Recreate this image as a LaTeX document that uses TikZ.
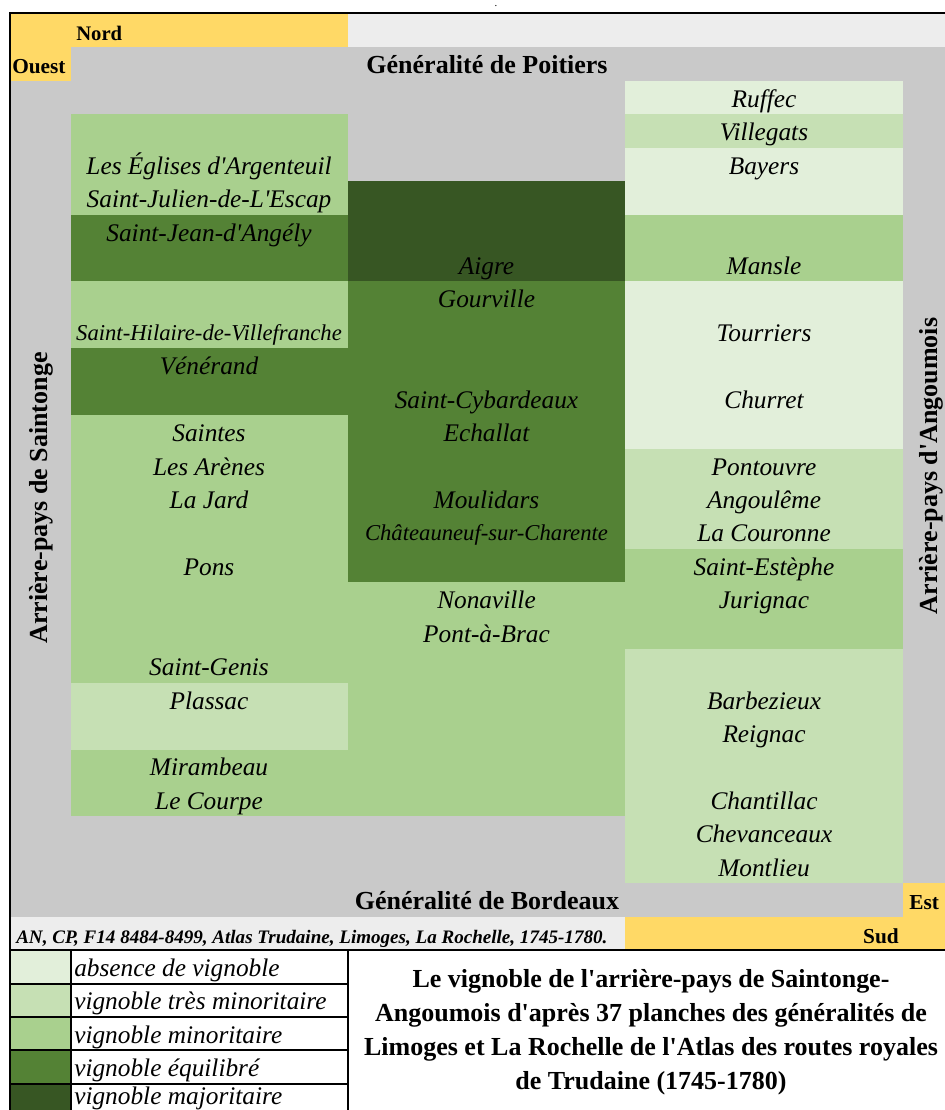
\documentclass[tikz,border=0pt]{standalone}
\usepackage{amssymb, mathtools, amsmath}
\usepackage{fontspec}
\setmainfont{Liberation Serif}
\usepackage{tikz}

\begin{document}
\begin{tikzpicture}[x=0.75pt,y=0.75pt,yscale=-1,xscale=1,
  gris/.style={fill={rgb, 255:red, 201; green, 201; blue, 201}},
  grisclair/.style={fill={rgb, 255:red, 237; green, 237; blue, 237}},
  jaune/.style={fill={rgb, 255:red, 255; green, 217; blue, 102}},
  vabsent/.style={fill={rgb, 255:red, 226; green, 239; blue, 218}},
  vtresmin/.style={fill={rgb, 255:red, 198; green, 224; blue, 180}},
  vmin/.style={fill={rgb, 255:red, 169; green, 208; blue, 142}},
  vequil/.style={fill={rgb, 255:red, 84; green, 130; blue, 53}},
  vmaj/.style={fill={rgb, 255:red, 55; green, 86; blue, 35}},
  lieu/.style={anchor=base, inner sep=0pt, font=\fontsize{19}{22}\selectfont\itshape},
  petitlieu/.style={lieu, font=\fontsize{17}{20}\selectfont\itshape},
  entete/.style={anchor=base, inner sep=0pt, font=\fontsize{19.5}{24}\selectfont\bfseries},
  boussole/.style={anchor=base west, inner sep=0pt, font=\fontsize{16}{18}\selectfont\bfseries},
  legende/.style={anchor=base west, inner sep=0pt, font=\fontsize{19}{22}\selectfont\itshape},
  source/.style={anchor=base west, inner sep=0pt, font=\fontsize{14.3}{16}\selectfont\bfseries\itshape},
  cadre/.style={line width=2pt},
  trait/.style={line width=1.5pt}]
%set diagram 945 x 1110
\fill [white] (0,0) rectangle (945,1110) ;
\useasboundingbox (0,0) rectangle (945,1110) ;

%Shape: Rectangle (fond)
\fill [gris] (10,14) rectangle (945,950) ;
\fill [jaune] (10,14) rectangle (348,47.4) ;
\fill [grisclair] (348,14) rectangle (945,47.4) ;
\fill [jaune] (10,47.4) rectangle (70.5,80.9) ;
\fill [jaune] (903,883.2) rectangle (945,916.6) ;
\fill [grisclair] (10,916.6) rectangle (625,950) ;
\fill [jaune] (625,916.6) rectangle (945,950) ;

%Shape: Rectangle (Saintonge)
\fill [vmin] (70.5,114.3) rectangle (348,214.6) ;
\fill [vequil] (70.5,214.6) rectangle (348,281.4) ;
\fill [vmin] (70.5,281.4) rectangle (348,348.3) ;
\fill [vequil] (70.5,348.3) rectangle (348,415.2) ;
\fill [vmin] (70.5,415.2) rectangle (348,682.6) ;
\fill [vtresmin] (70.5,682.6) rectangle (348,749.5) ;
\fill [vmin] (70.5,749.5) rectangle (348,816.3) ;

%Shape: Rectangle (centre)
\fill [vmaj] (348,181.2) rectangle (625,281.4) ;
\fill [vequil] (348,281.4) rectangle (625,582.3) ;
\fill [vmin] (348,582.3) rectangle (625,816.3) ;

%Shape: Rectangle (Angoumois)
\fill [vabsent] (625,80.9) rectangle (903,114.3) ;
\fill [vtresmin] (625,114.3) rectangle (903,147.7) ;
\fill [vabsent] (625,147.7) rectangle (903,214.6) ;
\fill [vmin] (625,214.6) rectangle (903,281.4) ;
\fill [vabsent] (625,281.4) rectangle (903,448.6) ;
\fill [vtresmin] (625,448.6) rectangle (903,548.9) ;
\fill [vmin] (625,548.9) rectangle (903,649.2) ;
\fill [vtresmin] (625,649.2) rectangle (903,883.2) ;

%Shape: Rectangle (legende)
\fill [vabsent] (10,950) rectangle (70.5,983.5) ;
\fill [vtresmin] (10,983.5) rectangle (70.5,1016.9) ;
\fill [vmin] (10,1016.9) rectangle (70.5,1050.3) ;
\fill [vequil] (10,1050.3) rectangle (70.5,1083.8) ;
\fill [vmaj] (10,1083.8) rectangle (70.5,1110) ;

%Straight Lines
\draw [cadre] (10,1110) -- (10,13) -- (945,13) ;
\draw [cadre] (10,950) -- (945,950) ;
\draw [trait] (10,983.5) -- (348,983.5) (10,1016.9) -- (348,1016.9) (10,1050.3) -- (348,1050.3) (10,1083.8) -- (348,1083.8) ;
\draw [trait] (70.5,950) -- (70.5,1110) (348,950) -- (348,1110) ;

% Text Node
\node [anchor=base, inner sep=0pt, font=\fontsize{8}{8}\selectfont] (point) at (496,7) {.};
% Text Node
\node [boussole, font=\fontsize{15.5}{18}\selectfont\bfseries] (nord) at (76,40.5) {Nord};
\node [boussole] (ouest) at (12,73.9) {Ouest};
\node [boussole] (est) at (909,909.6) {Est};
\node [boussole, anchor=base east] (sud) at (899,943) {Sud};
% Text Node
\node [entete] (poitiers) at (487,73.9) {Généralité de Poitiers};
\node [entete] (bordeaux) at (487,909.6) {Généralité de Bordeaux};
\node [entete, rotate=90] (saintonge) at (47,498) {Arrière-pays de Saintonge};
\node [entete, rotate=90] (angoumois) at (937,466) {Arrière-pays d\textquotesingle Angoumois};
% Text Node
\node [source] (sourceAN) at (16,943) {AN, CP, F14 8484-8499, Atlas Trudaine, Limoges, La Rochelle, 1745-1780.};

% Text Node
\node [lieu] (lesEglises) at (209,174.2) {Les Églises d\textquotesingle Argenteuil};
\node [lieu] (stJulien) at (209,207.6) {Saint-Julien-de-L\textquotesingle Escap};
\node [lieu] (stJean) at (209,241) {Saint-Jean-d\textquotesingle Angély};
\node [petitlieu] (stHilaire) at (209,340.5) {Saint-Hilaire-de-Villefranche};
\node [lieu] (venerand) at (209,374.7) {Vénérand};
\node [lieu] (saintes) at (209,441.6) {Saintes};
\node [lieu] (lesArenes) at (209,475) {Les Arènes};
\node [lieu] (laJard) at (209,508.5) {La Jard};
\node [lieu] (pons) at (209,575.3) {Pons};
\node [lieu] (stGenis) at (209,675.6) {Saint-Genis};
\node [lieu] (plassac) at (209,709) {Plassac};
\node [lieu] (mirambeau) at (209,775.9) {Mirambeau};
\node [lieu] (leCourpe) at (209,809.3) {Le Courpe};

% Text Node
\node [lieu] (aigre) at (486.5,274.4) {Aigre};
\node [lieu] (gourville) at (486.5,307.9) {Gourville};
\node [lieu] (stCybardeaux) at (486.5,408.2) {Saint-Cybardeaux};
\node [lieu] (echallat) at (486.5,441.6) {Echallat};
\node [lieu] (moulidars) at (486.5,508.5) {Moulidars};
\node [petitlieu] (chateauneuf) at (486.5,540.5) {Châteauneuf-sur-Charente};
\node [lieu] (nonaville) at (486.5,608.7) {Nonaville};
\node [lieu] (pontABrac) at (486.5,642.2) {Pont-à-Brac};

% Text Node
\node [lieu] (ruffec) at (764,107.3) {Ruffec};
\node [lieu] (villegats) at (764,140.7) {Villegats};
\node [lieu] (bayers) at (764,174.2) {Bayers};
\node [lieu] (mansle) at (764,274.4) {Mansle};
\node [lieu] (tourriers) at (764,341.3) {Tourriers};
\node [lieu] (churret) at (764,408.2) {Churret};
\node [lieu] (pontouvre) at (764,475) {Pontouvre};
\node [lieu] (angouleme) at (764,508.5) {Angoulême};
\node [lieu] (laCouronne) at (764,541.9) {La Couronne};
\node [lieu] (stEstephe) at (764,575.3) {Saint-Estèphe};
\node [lieu] (jurignac) at (764,608.7) {Jurignac};
\node [lieu] (barbezieux) at (764,709) {Barbezieux};
\node [lieu] (reignac) at (764,742.5) {Reignac};
\node [lieu] (chantillac) at (764,809.3) {Chantillac};
\node [lieu] (chevanceaux) at (764,842.8) {Chevanceaux};
\node [lieu] (montlieu) at (764,876.2) {Montlieu};

% Text Node
\node [legende] (legAbsent) at (74,976.5) {absence de vignoble};
\node [legende] (legTresmin) at (74,1009.9) {vignoble très minoritaire};
\node [legende] (legMin) at (74,1043.3) {vignoble minoritaire};
\node [legende] (legEquil) at (74,1076.8) {vignoble équilibré};
\node [legende] (legMaj) at (74,1104) {vignoble majoritaire};

% Text Node
\node [entete] (titreA) at (651,987) {Le vignoble de l\textquotesingle arrière-pays de Saintonge-};
\node [entete] (titreB) at (651,1021) {Angoumois d\textquotesingle après 37 planches des généralités de};
\node [entete] (titreC) at (651,1055) {Limoges et La Rochelle de l\textquotesingle Atlas des routes royales};
\node [entete] (titreD) at (651,1089) {de Trudaine (1745-1780)};

\end{tikzpicture}
\end{document}
